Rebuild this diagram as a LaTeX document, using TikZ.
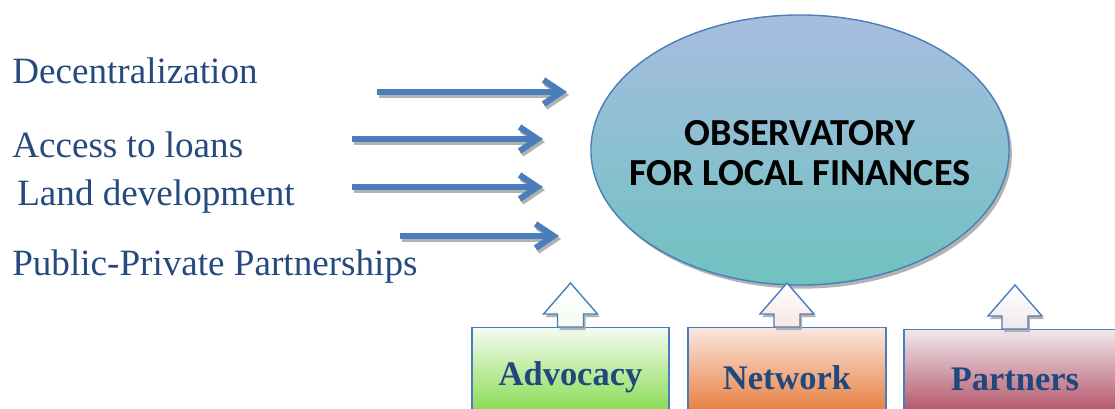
\documentclass[tikz,border=0pt]{standalone}
\usepackage{fontspec}
\setmainfont{Liberation Serif}
\newfontfamily\carlito{Carlito}[BoldFont={Carlito Bold}]
\usetikzlibrary{arrows.meta,shapes.geometric,shadows}
\definecolor{edgeblue}{HTML}{4A7EBB}
\definecolor{labelblue}{HTML}{264A7E}
\definecolor{boxtext}{HTML}{1F497D}
\definecolor{elltop}{HTML}{A7BDE0}
\definecolor{ellbot}{HTML}{6FC2C0}
\definecolor{advotop}{HTML}{F4FBF0}
\definecolor{advobot}{HTML}{76D535}
\definecolor{netwtop}{HTML}{FAE6E0}
\definecolor{netwbot}{HTML}{E36B1F}
\definecolor{parttop}{HTML}{F0E8EC}
\definecolor{partbot}{HTML}{A6344C}
\begin{document}
\begin{tikzpicture}[x=0.025cm, y=-0.025cm,
    label/.style={anchor=base west, text=labelblue, inner sep=0, font=\fontsize{26.4}{30}\selectfont},
    flow/.style={edgeblue, line width=4.3pt, -{Straight Barb[length=4.5mm, width=6mm]}},
    flowshadow/.style={gray!60, line width=4.3pt, -{Straight Barb[length=4.5mm, width=6mm]}},
    obs/.style={ellipse, draw=edgeblue, line width=1pt, top color=elltop, bottom color=ellbot,
      minimum width=10.45cm, minimum height=6.75cm, inner sep=0,
      drop shadow={shadow xshift=0.07cm, shadow yshift=-0.09cm, fill=gray!60, opacity=1}},
    obstext/.style={align=center, inner sep=0, font=\carlito\bfseries\fontsize{27.2}{28.5}\selectfont},
    pillar/.style={anchor=north, draw=edgeblue, line width=1pt, minimum height=2.5cm, inner sep=0,
      text=boxtext, font=\bfseries\fontsize{24.5}{28}\selectfont},
    uparr/.style={draw=edgeblue, line width=1pt, top color=white},
  ]
  \useasboundingbox (0,0) rectangle (1115,408);

  % topics on the left
  \node[label] (decent) at (12,83) {Decentralization};
  \node[label] (loans) at (12,157) {Access to loans};
  \node[label] (land) at (17,205) {Land development};
  \node[label] (ppp) at (12,275) {Public-Private Partnerships};

  \foreach \i/\a/\b/\y in {1/377/567/92, 2/352/543/139, 3/352/543/187, 4/400/559/236} {
    \coordinate (s\i) at (\a,\y);
    \coordinate (e\i) at (\b,\y);
    \draw[flowshadow] ([shift={(2,3)}]s\i) -- ([shift={(2,3)}]e\i);
    \draw[flow] (s\i) -- (e\i);
  }

  % the observatory
  \node[obs] (obs) at (800,150) {};
  \node[obstext] (obstitle) at ([yshift=-2.5pt]obs.center) {OBSERVATORY\\FOR LOCAL FINANCES};

  % the three pillars
  \node[pillar, minimum width=4.925cm, top color=advotop, bottom color=advobot] (advo) at (570.5,327) {Advocacy};
  \node[pillar, minimum width=4.95cm, top color=netwtop, bottom color=netwbot] (netw) at (787,327) {Network};
  \node[pillar, minimum width=5.55cm, top color=parttop, bottom color=partbot] (part) at (1015,329) {Partners};

  \foreach \n/\t in {advo/advotop, netw/netwtop, part/parttop} {
    \fill[gray!60] ([shift={(2,3)}]\n.north) ++(-13,0) -- ++(0,-13) -- ++(-14,0) -- ++(27,-31)
      -- ++(27,31) -- ++(-14,0) -- ++(0,13) -- cycle;
    \draw[uparr, bottom color=\t] (\n.north) ++(-13,0) -- ++(0,-13) -- ++(-14,0) -- ++(27,-31)
      -- ++(27,31) -- ++(-14,0) -- ++(0,13) -- cycle;
  }
\end{tikzpicture}
\end{document}
